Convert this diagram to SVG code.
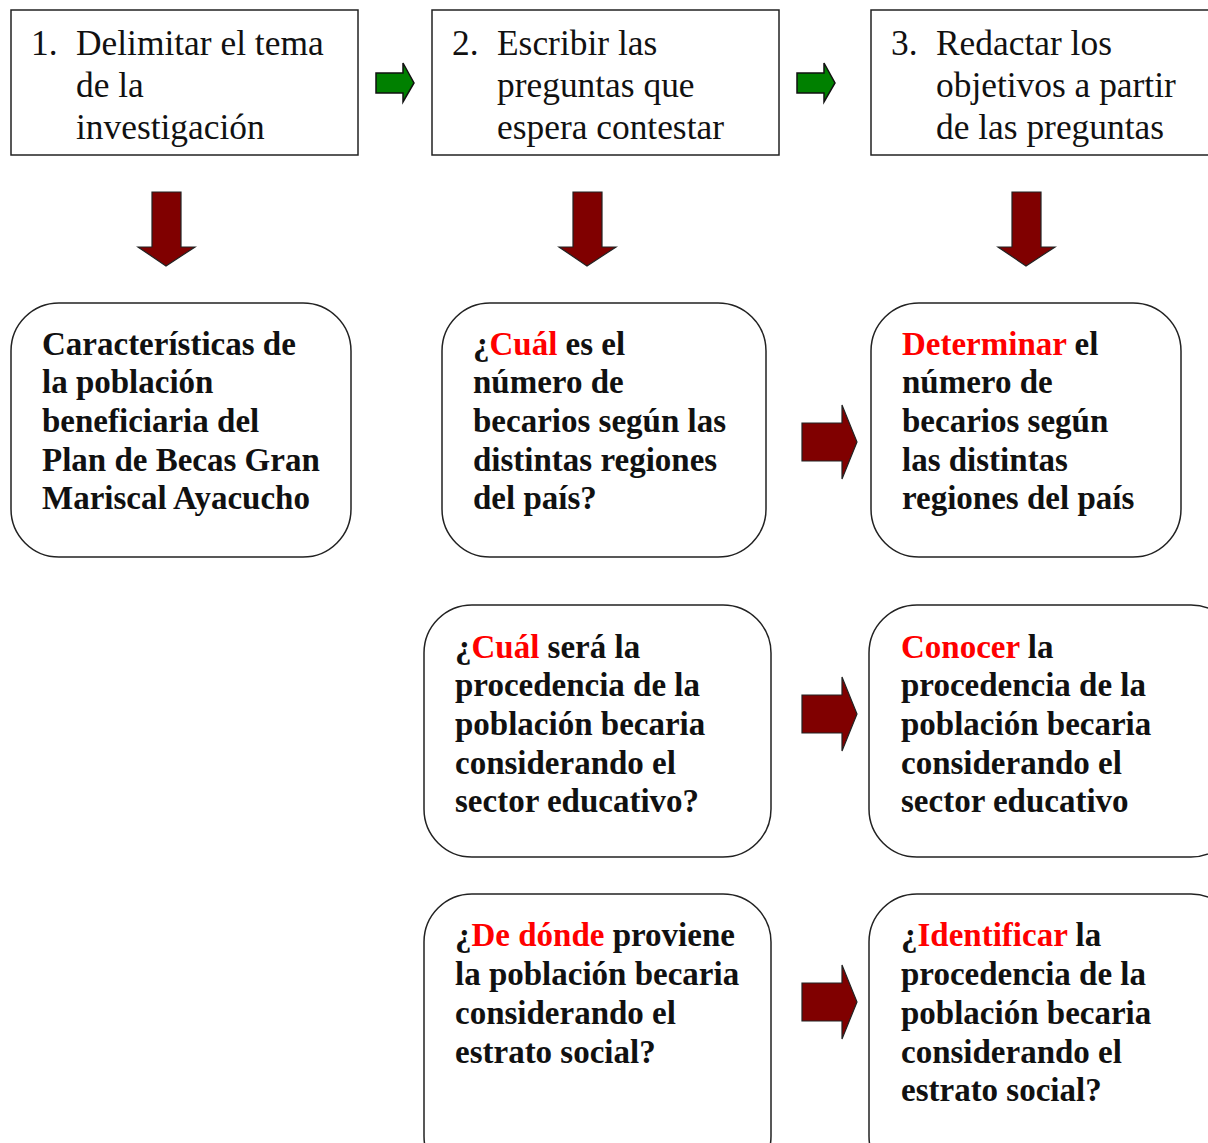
<svg xmlns="http://www.w3.org/2000/svg" width="1208" height="1143" viewBox="0 0 1208 1143">
<style>
.box{fill:#fff;stroke:#222;stroke-width:1.5}
.rbox{fill:#fff;stroke:#222;stroke-width:1.5}
.t{font-family:"Liberation Serif","Times New Roman",serif;font-size:35.4px;fill:#111}
.b{font-family:"Liberation Serif","Times New Roman",serif;font-size:33px;font-weight:bold;fill:#111}
.red{fill:#ff0000}
.ga{fill:#008000;stroke:#111;stroke-width:1.5;stroke-linejoin:miter}
.ra{fill:#800000;stroke:#222;stroke-width:1.2}
</style>
<rect width="1208" height="1143" fill="#fff"/>
<g id="connectors">
<path class="ga" d="M376,73 H403 V63 L414,83 L403,102 V93 H376 Z"/>
<path class="ga" d="M797,73 H824 V63 L835,83 L824,102 V93 H797 Z"/>
<path class="ra" d="M152,192 H181 V247 H195 L166,266 L138,247 H152 Z"/>
<path class="ra" d="M573,192 H602 V247 H616 L587,266 L559,247 H573 Z"/>
<path class="ra" d="M1012,192 H1041 V247 H1055 L1026,266 L998,247 H1012 Z"/>
<path class="ra" d="M802,423 H842 V405 L857,442 L842,479 V461 H802 Z"/>
<path class="ra" d="M802,695 H842 V677 L857,714 L842,751 V733 H802 Z"/>
<path class="ra" d="M802,983 H842 V965 L857,1002 L842,1039 V1021 H802 Z"/>
</g>
<g id="step1">
<rect class="box" x="11" y="10" width="347" height="145"/>
<text class="t" x="31" y="55">1.</text>
<text class="t" x="76" y="55">Delimitar el tema</text>
<text class="t" x="76" y="97">de la</text>
<text class="t" x="76" y="139">investigación</text>
</g>
<g id="step2">
<rect class="box" x="432" y="10" width="347" height="145"/>
<text class="t" x="452" y="55">2.</text>
<text class="t" x="497" y="55">Escribir las</text>
<text class="t" x="497" y="97">preguntas que</text>
<text class="t" x="497" y="139">espera contestar</text>
</g>
<g id="step3">
<rect class="box" x="871" y="10" width="345" height="145"/>
<text class="t" x="891" y="55">3.</text>
<text class="t" x="936" y="55">Redactar los</text>
<text class="t" x="936" y="97">objetivos a partir</text>
<text class="t" x="936" y="139">de las preguntas</text>
</g>
<g id="tema">
<rect class="rbox" x="11" y="303" width="340" height="254" rx="48"/>
<text class="b" x="42" y="355">Características de</text>
<text class="b" x="42" y="393">la población</text>
<text class="b" x="42" y="432">beneficiaria del</text>
<text class="b" x="42" y="471">Plan de Becas Gran</text>
<text class="b" x="42" y="509">Mariscal Ayacucho</text>
</g>
<g id="pregunta1">
<rect class="rbox" x="442" y="303" width="324" height="254" rx="48"/>
<text class="b" x="473" y="355">¿<tspan class="red">Cuál</tspan> es el</text>
<text class="b" x="473" y="393">número de</text>
<text class="b" x="473" y="432">becarios según las</text>
<text class="b" x="473" y="471">distintas regiones</text>
<text class="b" x="473" y="509">del país?</text>
</g>
<g id="objetivo1">
<rect class="rbox" x="871" y="303" width="310" height="254" rx="48"/>
<text class="b" x="902" y="355"><tspan class="red">Determinar</tspan> el</text>
<text class="b" x="902" y="393">número de</text>
<text class="b" x="902" y="432">becarios según</text>
<text class="b" x="902" y="471">las distintas</text>
<text class="b" x="902" y="509">regiones del país</text>
</g>
<g id="pregunta2">
<rect class="rbox" x="424" y="605" width="347" height="252" rx="48"/>
<text class="b" x="455" y="658">¿<tspan class="red">Cuál</tspan> será la</text>
<text class="b" x="455" y="696">procedencia de la</text>
<text class="b" x="455" y="735">población becaria</text>
<text class="b" x="455" y="774">considerando el</text>
<text class="b" x="455" y="812">sector educativo?</text>
</g>
<g id="objetivo2">
<rect class="rbox" x="869" y="605" width="370" height="252" rx="48"/>
<text class="b" x="901" y="658"><tspan class="red">Conocer</tspan> la</text>
<text class="b" x="901" y="696">procedencia de la</text>
<text class="b" x="901" y="735">población becaria</text>
<text class="b" x="901" y="774">considerando el</text>
<text class="b" x="901" y="812">sector educativo</text>
</g>
<g id="pregunta3">
<rect class="rbox" x="424" y="894" width="347" height="290" rx="48"/>
<text class="b" x="455" y="946">¿<tspan class="red">De dónde</tspan> proviene</text>
<text class="b" x="455" y="985">la población becaria</text>
<text class="b" x="455" y="1024">considerando el</text>
<text class="b" x="455" y="1063">estrato social?</text>
</g>
<g id="objetivo3">
<rect class="rbox" x="869" y="894" width="370" height="290" rx="48"/>
<text class="b" x="901" y="946">¿<tspan class="red">Identificar</tspan> la</text>
<text class="b" x="901" y="985">procedencia de la</text>
<text class="b" x="901" y="1024">población becaria</text>
<text class="b" x="901" y="1063">considerando el</text>
<text class="b" x="901" y="1101">estrato social?</text>
</g>
</svg>
